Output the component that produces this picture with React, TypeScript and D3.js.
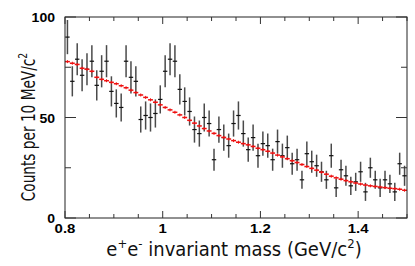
import React, { useRef, useEffect } from 'react';
import * as d3 from 'd3';

// bin centres run 0.805 ... 1.495 (10 MeV bins)
const binLow = 0.8;
const binWidth = 0.01;

const counts = [
  90, 68, 79, 71, 74, 78, 66, 73, 78, 63,
  57, 55, 78, 70, 68, 49, 51, 50, 52, 59,
  73, 79, 78, 64, 58, 53, 44, 42, 50, 47,
  29, 44, 40, 36, 47, 51, 42, 34, 40, 31,
  37, 36, 29, 38, 31, 35, 27, 29, 19, 32,
  28, 26, 23, 19, 31, 15, 24, 21, 16, 18,
  23, 13, 25, 19, 15, 19, 17, 13, 27, 21,
];

const errors = [
  8.5, 7.5, 8, 8, 8, 8, 7.5, 8, 8, 7.5,
  7, 7, 8, 8, 7.5, 6.5, 7, 7, 7, 7,
  8, 8, 8, 7.5, 7, 7, 6.5, 6.5, 7, 6.5,
  5.5, 6.5, 6.5, 6, 6.5, 7, 6.5, 6, 6.5, 6,
  6, 6, 5.5, 6, 6, 6, 5.5, 5.5, 4.5, 6,
  5.5, 5.5, 5, 4.5, 6, 4.5, 5, 5, 4.5, 4.5,
  5, 4.5, 5, 4.5, 4.5, 4.5, 4.5, 4.5, 5.5, 5,
];

const fit = [
  77.8, 77.0, 76.4, 74.5, 74.0, 73.0, 70.0, 69.0, 68.3, 67.5,
  66.8, 65.8, 64.8, 63.6, 62.4, 61.2, 60.0, 58.8, 57.6, 56.3,
  55.0, 53.8, 52.6, 51.3, 50.0, 48.6, 47.2, 45.8, 44.5, 43.3,
  42.1, 41.0, 40.1, 39.3, 38.5, 37.7, 37.0, 36.4, 35.6, 34.7,
  34.0, 33.2, 32.3, 31.3, 30.4, 29.5, 28.5, 27.6, 26.6, 25.6,
  24.7, 23.8, 22.8, 21.8, 20.8, 20.0, 19.3, 18.6, 18.0, 17.4,
  16.9, 16.4, 16.0, 15.7, 15.4, 15.1, 14.8, 14.6, 14.3, 13.8,
];

const xTickLabels = [0.8, 1, 1.2, 1.4];
const yTickLabels = [0, 50, 100];

const App = () => {
  const ref = useRef<SVGSVGElement>(null);

  useEffect(() => {
    const W = 415, H = 266;
    const margin = { top: 17, right: 8, bottom: 48, left: 65 };
    const width = W - margin.left - margin.right;
    const height = H - margin.top - margin.bottom;

    const svg = d3.select(ref.current)
      .attr('width', W)
      .attr('height', H)
      .append('g')
      .attr('transform', `translate(${margin.left},${margin.top})`);

    const x = d3.scaleLinear().domain([0.8, 1.5]).range([0, width]);
    const y = d3.scaleLinear().domain([0, 100]).range([height, 0]);

    const data = counts.map((c, i) => ({
      lo: binLow + i * binWidth,
      mid: binLow + (i + 0.5) * binWidth,
      hi: binLow + (i + 1) * binWidth,
      c, e: errors[i], f: fit[i],
    }));

    // error bars
    const pts = svg.append('g');
    pts.selectAll('line.err')
      .data(data)
      .enter().append('line')
      .attr('x1', d => x(d.mid)).attr('x2', d => x(d.mid))
      .attr('y1', d => y(d.c - d.e)).attr('y2', d => y(Math.min(d.c + d.e, 100)))
      .attr('stroke', '#4a4a4a')
      .attr('stroke-width', 1.5);
    pts.selectAll('line.val')
      .data(data)
      .enter().append('line')
      .attr('x1', d => x(d.mid) - 2.2).attr('x2', d => x(d.mid) + 2.2)
      .attr('y1', d => y(d.c)).attr('y2', d => y(d.c))
      .attr('stroke', '#111')
      .attr('stroke-width', 1.2);

    // fit (red)
    const fg = svg.append('g');
    fg.selectAll('line.fh')
      .data(data)
      .enter().append('line')
      .attr('x1', d => x(d.lo)).attr('x2', d => x(d.hi))
      .attr('y1', d => y(d.f)).attr('y2', d => y(d.f))
      .attr('stroke', '#ee1111')
      .attr('stroke-width', 1.5);
    fg.selectAll('line.fv')
      .data(data)
      .enter().append('line')
      .attr('x1', d => x(d.mid)).attr('x2', d => x(d.mid))
      .attr('y1', d => y(d.f) - 1.5).attr('y2', d => y(d.f) + 1.5)
      .attr('stroke', '#ee1111')
      .attr('stroke-width', 1);

    // frame
    svg.append('rect')
      .attr('x', 0).attr('y', 0)
      .attr('width', width).attr('height', height)
      .attr('fill', 'none')
      .attr('stroke', '#222')
      .attr('stroke-width', 1);

    // ticks (inside, mirrored on top/right)
    const tk = svg.append('g').attr('stroke', '#333').attr('stroke-width', 1);
    const xt = d3.range(0, 15).map(k => 0.8 + k * 0.05);
    xt.forEach(v => {
      const major = xTickLabels.some(l => Math.abs(l - v) < 1e-6);
      const len = major ? 7 : 4;
      tk.append('line').attr('x1', x(v)).attr('x2', x(v)).attr('y1', height).attr('y2', height - len);
      tk.append('line').attr('x1', x(v)).attr('x2', x(v)).attr('y1', 0).attr('y2', len);
    });
    [0, 25, 50, 75, 100].forEach(v => {
      const len = v % 50 === 0 ? 11 : 6;
      tk.append('line').attr('x1', 0).attr('x2', len).attr('y1', y(v)).attr('y2', y(v));
      tk.append('line').attr('x1', width).attr('x2', width - len).attr('y1', y(v)).attr('y2', y(v));
    });

    const font = '"Liberation Sans", Arial, sans-serif';
    svg.selectAll('text.xl')
      .data(xTickLabels)
      .enter().append('text')
      .attr('transform', d => `translate(${x(d)},${height + 15}) scale(1.15,1)`)
      .attr('text-anchor', 'middle')
      .attr('font-family', font)
      .attr('font-weight', 'bold')
      .attr('font-size', 13)
      .text(d => d === 0.8 ? '0.8' : d3.format('.1~f')(d));

    svg.selectAll('text.yl')
      .data(yTickLabels)
      .enter().append('text')
      .attr('transform', d => `translate(-10,${y(d) + 5}) scale(1.08,1)`)
      .attr('text-anchor', 'end')
      .attr('font-family', font)
      .attr('font-weight', 'bold')
      .attr('font-size', 13)
      .text(d => d);

    const lab = '"DejaVu Sans", Verdana, sans-serif';
    const xl = svg.append('text')
      .attr('transform', `translate(${234 - margin.left},${256 - margin.top}) scale(0.9,1)`)
      .attr('text-anchor', 'middle')
      .attr('font-family', lab)
      .attr('font-size', 20)
      .attr('fill', '#111');
    xl.append('tspan').text('e');
    xl.append('tspan').attr('dy', -8).attr('font-size', 13).text('+');
    xl.append('tspan').attr('dy', 8).text('e');
    xl.append('tspan').attr('dy', -8).attr('font-size', 13).text('-');
    xl.append('tspan').attr('dy', 8).text(' invariant mass (GeV/c');
    xl.append('tspan').attr('dy', -8).attr('font-size', 13).text('2');
    xl.append('tspan').attr('dy', 8).text(')');

    const yl = svg.append('text')
      .attr('transform', `translate(${35 - margin.left},${127 - margin.top}) rotate(-90) scale(0.72,1)`)
      .attr('text-anchor', 'middle')
      .attr('font-family', lab)
      .attr('font-size', 19)
      .attr('fill', '#111');
    yl.append('tspan').text('Counts per 10 MeV/c');
    yl.append('tspan').attr('dy', -8).attr('font-size', 13).text('2');

    return () => {
      d3.select(ref.current).selectAll('*').remove();
    };
  }, []);

  return <svg ref={ref} style={{ position: 'absolute', left: 0, top: 0, background: '#fff' }}></svg>;
};

export default App;
